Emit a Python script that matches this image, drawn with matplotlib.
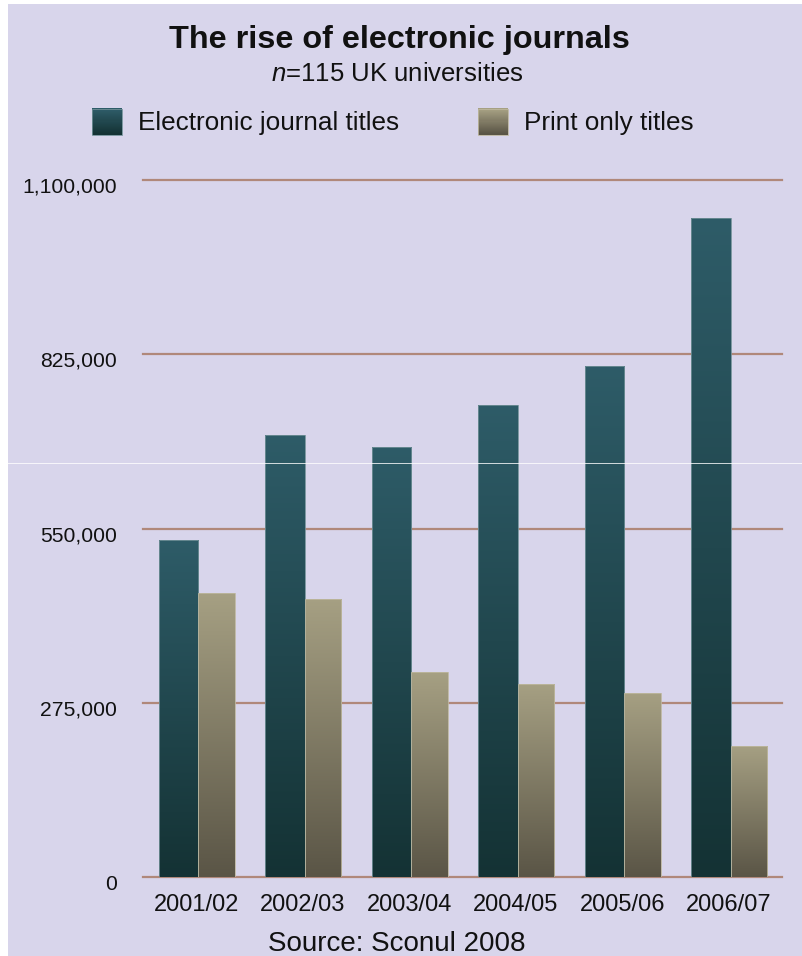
import numpy as np
import matplotlib
matplotlib.use("Agg")
import matplotlib.pyplot as plt
from matplotlib.colors import LinearSegmentedColormap
from matplotlib.patches import Rectangle
from matplotlib.legend_handler import HandlerBase
from matplotlib.lines import Line2D
from matplotlib.transforms import ScaledTranslation

# Data
years = ["2001/02", "2002/03", "2003/04", "2004/05", "2005/06", "2006/07"]
electronic_titles = [532000, 698000, 679000, 745000, 806000, 1040000]
print_only_titles = [448000, 439000, 323000, 305000, 291000, 207000]
y_ticks = [0, 275000, 550000, 825000, 1100000]
y_tick_labels = ["0", "275,000", "550,000", "825,000", "1,100,000"]

plt.rcParams["font.family"] = ["Liberation Sans", "DejaVu Sans"]
plt.rcParams["mathtext.fontset"] = "custom"
plt.rcParams["mathtext.it"] = "Liberation Sans:italic"
plt.rcParams["mathtext.rm"] = "Liberation Sans"

BG = "#d8d5eb"
GRID = "#b0887a"
TEXT = "#111111"
E_TOP, E_BOT = "#2e5c68", "#143234"
P_TOP, P_BOT = "#a6a083", "#5a5546"

W, H = 803, 956
fig = plt.figure(figsize=(W / 100, H / 100), dpi=100, facecolor="white")
# lavender panel (thin white margin on the left and top of the scan)
fig.patches.append(Rectangle((8 / W, 0), 1, 1 - 4 / H, transform=fig.transFigure,
                             facecolor=BG, edgecolor="none", zorder=-5))

ax = fig.add_axes([143 / W, (H - 877) / H, 639 / W, 697 / H])
ax.set_facecolor("none")

x = np.arange(len(years))
e_w, p_w = 0.37, 0.34
split = 0.02
bars_e = ax.bar(x + split - e_w, electronic_titles, width=e_w, align="edge", zorder=3,
                facecolor="none", edgecolor="#6f8f96", linewidth=0.6)
bars_p = ax.bar(x + split, print_only_titles, width=p_w, align="edge", zorder=3,
                facecolor="none", edgecolor="#bdb79e", linewidth=0.6)

cmap_e = LinearSegmentedColormap.from_list("e", [E_BOT, E_TOP])
cmap_p = LinearSegmentedColormap.from_list("p", [P_BOT, P_TOP])
grad = np.linspace(0, 1, 256).reshape(-1, 1)


def fill_gradient(bars, cmap):
    for b in bars:
        x0, y0, w, h = b.get_x(), b.get_y(), b.get_width(), b.get_height()
        im = ax.imshow(grad, extent=[x0, x0 + w, y0, y0 + h], origin="lower",
                       aspect="auto", cmap=cmap, zorder=2.5, interpolation="bilinear")
        im.set_clip_path(b)


fill_gradient(bars_e, cmap_e)
fill_gradient(bars_p, cmap_p)

ax.set_xlim(-0.5, len(years) - 0.5)
ax.set_ylim(0, 1100000)

for v in y_ticks:
    ax.axhline(v, color=GRID, linewidth=1.6, zorder=1, clip_on=False)

ax.set_yticks(y_ticks)
ax.set_yticklabels(y_tick_labels)
ax.set_xticks(x)
ax.set_xticklabels(years)
ax.tick_params(axis="y", length=0, pad=19, labelsize=15.2, labelcolor=TEXT)
ax.tick_params(axis="x", length=0, pad=12, labelsize=17, labelcolor=TEXT)
for t in ax.yaxis.get_major_ticks():
    t.label1.set_transform(t.label1.get_transform()
                           + ScaledTranslation(0, -5 / 100, fig.dpi_scale_trans))
for s in ax.spines.values():
    s.set_visible(False)

fig.text(399 / W, 1 - 40 / H, "The rise of electronic journals", ha="center", va="center",
         fontsize=23.3, fontweight="bold", color=TEXT)
fig.text(397 / W, 1 - 74 / H, "$n$=115 UK universities", ha="center", va="center",
         fontsize=18.5, color=TEXT)
fig.text(397 / W, 1 - 944 / H, "Source: Sconul 2008", ha="center", va="center",
         fontsize=20, color=TEXT)


class GradientSquare(HandlerBase):
    def __init__(self, top, bottom, edge):
        super().__init__()
        self.top, self.bottom, self.edge = top, bottom, edge

    def create_artists(self, legend, orig_handle, xdescent, ydescent, width, height,
                       fontsize, trans):
        cm = LinearSegmentedColormap.from_list("h", [self.bottom, self.top])
        n = 24
        arts = []
        for i in range(n):
            r = Rectangle((-xdescent, -ydescent + height * i / n), width, height / n + 0.3,
                          facecolor=cm(i / (n - 1)), edgecolor="none", transform=trans)
            arts.append(r)
        arts.append(Rectangle((-xdescent, -ydescent), width, height, facecolor="none",
                              edgecolor=self.edge, linewidth=0.6, transform=trans))
        return arts


leg = fig.legend([bars_e, bars_p], ["Electronic journal titles", "Print only titles"],
                 loc="center", bbox_to_anchor=(393 / W, 1 - 122 / H), ncol=2,
                 frameon=False, fontsize=18.8, handlelength=1.15, handleheight=1.15,
                 handletextpad=0.62, columnspacing=3.0, labelcolor=TEXT,
                 handler_map={bars_e: GradientSquare(E_TOP, E_BOT, "#6f8f96"),
                              bars_p: GradientSquare(P_TOP, P_BOT, "#bdb79e")})

# faint white seam across the scan
fig.add_artist(Line2D([0, 1], [1 - 463 / H, 1 - 463 / H], transform=fig.transFigure,
                      color="white", linewidth=0.7, alpha=0.8))

fig.savefig("out.png", dpi=100, facecolor=fig.get_facecolor())
